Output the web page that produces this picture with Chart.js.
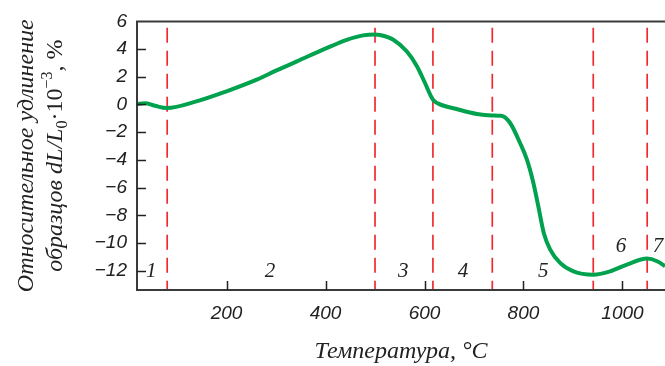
<!DOCTYPE html>
<html>
<head>
<meta charset="utf-8">
<script src="https://cdn.jsdelivr.net/npm/chart.js@4.4.1/dist/chart.umd.min.js"></script>
<style>
    html, body { margin: 0; padding: 0; background: #fff; }
    #wrap { width: 665px; height: 366px; position: relative; }
</style>
</head>
<body>
<div id="wrap"><canvas id="c"></canvas></div>
<script>
// температура, °C и относительное удлинение dL/L0*10^-3, %
const temps = [19, 35, 55, 79, 139, 200, 261, 301, 342, 402, 443, 476, 500, 510, 537, 564, 585, 601, 617, 628,
    665, 706, 737, 755, 773, 793, 807, 820, 830, 841, 854, 874, 901, 941, 975, 1009, 1050, 1070, 1086];
const elong = [0.03, 0.08, -0.09, -0.26, 0.22, 0.95, 1.79, 2.46, 3.11, 4.07, 4.67, 4.99, 5.05, 5.02, 4.68, 3.84, 2.75, 1.55, 0.35, 0.06,
    -0.33, -0.69, -0.79, -0.82, -1.34, -2.78, -3.99, -5.67, -7.36, -9.28, -10.48, -11.44, -12.05, -12.29, -12.05, -11.56, -11.13, -11.32, -11.68];

// границы областей (пунктир)
const borders = [80, 500, 617, 737, 941, 1050];

// номера областей
const regionNames = ['1', '2', '3', '4', '5', '6', '7'];
const regionX = [48, 288, 557, 678, 840, 997, 1072];
const regionY = [-12.07, -12.07, -12.07, -12.07, -12.07, -10.27, -10.27];

const xTicks = [200, 400, 600, 800, 1000];
const yTicks = [-12, -10, -8, -6, -4, -2, 0, 2, 4, 6];

const X_MIN = 19, X_MAX = 1086;
const Y_MIN = -13.4, Y_MAX = 6;

const borderSets = borders.map(t => ({
    data: [{ x: t, y: 5.55 }, { x: t, y: Y_MIN }],
    borderColor: '#ee2b2f',
    borderWidth: 1.7,
    borderDash: [15, 8],
    pointRadius: 0,
    fill: false
}));

const extras = {
    id: 'extras',
    afterDraw(chart) {
        const ctx = chart.ctx;
        const a = chart.chartArea;
        const xs = chart.scales.x, ys = chart.scales.y;
        ctx.save();
        // рамка: верх, лево, низ
        ctx.strokeStyle = '#3a3a3a';
        ctx.lineWidth = 2;
        ctx.beginPath();
        ctx.moveTo(chart.width, a.top);
        ctx.lineTo(a.left, a.top);
        ctx.lineTo(a.left, a.bottom);
        ctx.lineTo(chart.width, a.bottom);
        ctx.stroke();
        // засечки внутрь
        ctx.strokeStyle = '#222';
        ctx.lineWidth = 1.5;
        ctx.beginPath();
        xTicks.forEach(v => {
            const px = Math.round(xs.getPixelForValue(v)) + 0.5;
            ctx.moveTo(px, a.bottom);
            ctx.lineTo(px, a.bottom - 9);
        });
        yTicks.forEach(v => {
            if (v === Y_MAX) return;
            const py = Math.round(ys.getPixelForValue(v)) + 0.5;
            ctx.moveTo(a.left, py);
            ctx.lineTo(a.left + 9, py);
        });
        ctx.stroke();

        // номера областей
        ctx.fillStyle = '#222';
        ctx.font = 'italic 21px "Liberation Serif"';
        ctx.textAlign = 'center';
        ctx.textBaseline = 'middle';
        regionNames.forEach((n, i) => {
            ctx.fillText(n, xs.getPixelForValue(regionX[i]), ys.getPixelForValue(regionY[i]));
        });

        // подпись оси Y
        const yc = (a.top + a.bottom) / 2;
        ctx.textAlign = 'left';
        ctx.textBaseline = 'alphabetic';
        ctx.save();
        ctx.translate(25, yc);
        ctx.rotate(-Math.PI / 2);
        ctx.font = 'italic 24px "Liberation Serif"';
        const l1 = 'Относительное удлинение';
        ctx.fillText(l1, -ctx.measureText(l1).width / 2, 8);
        ctx.restore();

        const parts = [
            { t: 'образцов ', f: 'italic 24px "Liberation Serif"', dy: 0 },
            { t: 'dL/L', f: 'italic 24px "Liberation Serif"', dy: 0 },
            { t: '0', f: '16px "Liberation Serif"', dy: 5 },
            { t: '·10', f: '24px "Liberation Serif"', dy: 0 },
            { t: '−3', f: '16px "Liberation Serif"', dy: -10 },
            { t: ', %', f: '24px "Liberation Serif"', dy: 0 }
        ];
        let total = 0;
        parts.forEach(p => { ctx.font = p.f; p.w = ctx.measureText(p.t).width; total += p.w; });
        ctx.save();
        ctx.translate(54, yc);
        ctx.rotate(-Math.PI / 2);
        let x = -total / 2;
        parts.forEach(p => {
            ctx.font = p.f;
            ctx.fillText(p.t, x, 8 + p.dy);
            x += p.w;
        });
        ctx.restore();
        ctx.restore();
    }
};

new Chart(document.getElementById('c'), {
    type: 'line',
    data: {
        datasets: [{
            data: temps.map((t, i) => ({ x: t, y: elong[i] })),
            borderColor: '#00a24e',
            borderWidth: 4,
            pointRadius: 0,
            cubicInterpolationMode: 'monotone',
            fill: false
        }, ...borderSets]
    },
    options: {
        responsive: true,
        maintainAspectRatio: false,
        animation: false,
        layout: { padding: { top: 20, right: 0, left: 0, bottom: 0 } },
        plugins: { legend: { display: false }, tooltip: { enabled: false } },
        scales: {
            x: {
                type: 'linear',
                min: X_MIN,
                max: X_MAX,
                afterBuildTicks: s => { s.ticks = xTicks.map(v => ({ value: v })); },
                afterFit: s => { s.height = 76; },
                grid: { display: false, drawTicks: false },
                border: { display: false },
                ticks: {
                    color: '#222',
                    padding: 12,
                    maxRotation: 0,
                    font: { family: 'Liberation Sans', style: 'italic', size: 19 },
                    callback: v => String(v)
                },
                title: {
                    display: true,
                    text: 'Температура, °C',
                    color: '#222',
                    padding: { top: 0, bottom: 0 },
                    font: { family: 'Liberation Serif', style: 'italic', size: 24 }
                }
            },
            y: {
                min: Y_MIN,
                max: Y_MAX,
                afterBuildTicks: s => { s.ticks = yTicks.map(v => ({ value: v })); },
                afterFit: s => { s.width = 137; },
                grid: { display: false, drawTicks: false },
                border: { display: false },
                ticks: {
                    color: '#222',
                    padding: 10,
                    font: { family: 'Liberation Sans', style: 'italic', size: 19 },
                    callback: v => v < 0 ? '−' + Math.abs(v) : String(v)
                }
            }
        }
    },
    plugins: [extras]
});
</script>
</body>
</html>
